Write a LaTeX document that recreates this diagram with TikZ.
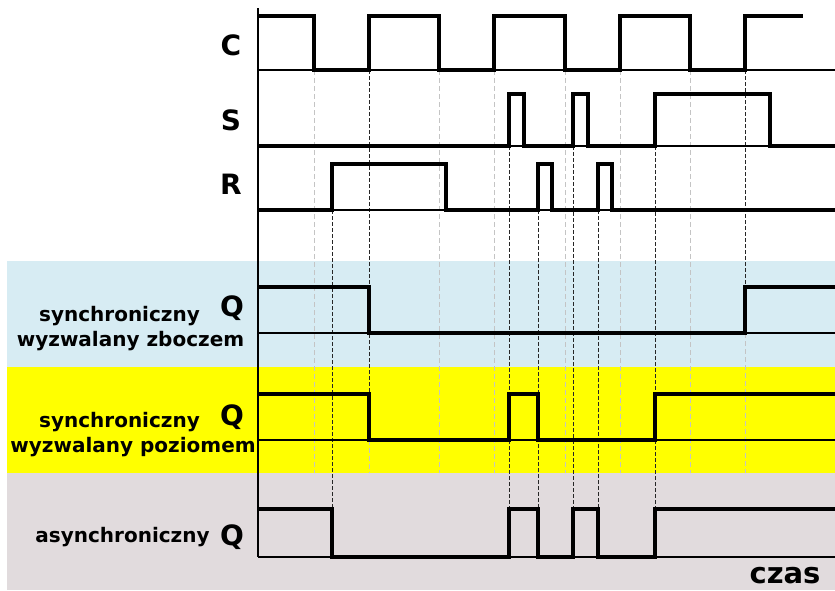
\documentclass[tikz,border=0pt]{standalone}
\usepackage{fontspec}
\setmainfont{DejaVu Sans}
\definecolor{bgblue}{HTML}{D7ECF3}
\definecolor{bgyellow}{HTML}{FFFF00}
\definecolor{bggrey}{HTML}{E1DBDD}
\definecolor{lightdash}{HTML}{C4C4C4}
\begin{document}
\begin{tikzpicture}[x=1pt,y=-1pt,
  wave/.style={line width=3.1pt, line join=miter},
  baseln/.style={line width=1.5pt},
  darkdash/.style={line width=1pt, black!85, dash pattern=on 4pt off 2pt},
  lightdsh/.style={line width=1pt, lightdash, dash pattern=on 5pt off 3pt},
  sig/.style={font=\fontsize{28}{28}\selectfont\bfseries, anchor=base, inner sep=0pt},
  lab/.style={font=\fontsize{20}{20}\selectfont\bfseries, anchor=base, inner sep=0pt}]
\useasboundingbox (0,0) rectangle (835,590);
% backgrounds
\fill[bgblue] (7,261) rectangle (835,367);
\fill[bgyellow] (7,367) rectangle (835,473);
\fill[bggrey] (7,473) rectangle (835,590);
% light dashed clock guides
\foreach \x in {314,439,494,565,620,690}
  \draw[lightdsh] (\x,70) -- (\x,473);
\draw[lightdsh] (369,440) -- (369,473);
\draw[lightdsh] (745,333) -- (745,473);
% dark dashed guides
\draw[darkdash] (369,70) -- (369,440);
\draw[darkdash] (745,70) -- (745,333);
\foreach \x in {332,538,598}
  \draw[darkdash] (\x,210) -- (\x,557);
\foreach \x in {509,573,655}
  \draw[darkdash] (\x,146) -- (\x,557);
% baselines
\foreach \y in {70,146,210,333,440,557}
  \draw[baseln] (258,\y) -- (835,\y);
% axis
\draw[line width=1.7pt] (258,8) -- (258,557);
% waveforms
\draw[wave] (258,16) -- (314,16) -- (314,70) -- (369,70) -- (369,16) -- (439,16) -- (439,70)
  -- (494,70) -- (494,16) -- (565,16) -- (565,70) -- (620,70) -- (620,16) -- (690,16)
  -- (690,70) -- (745,70) -- (745,16) -- (803,16);
\draw[wave] (258,146) -- (509,146) -- (509,94) -- (524,94) -- (524,146) -- (573,146)
  -- (573,94) -- (588,94) -- (588,146) -- (655,146) -- (655,94) -- (770,94) -- (770,146) -- (835,146);
\draw[wave] (258,210) -- (332,210) -- (332,164) -- (446,164) -- (446,210) -- (538,210)
  -- (538,164) -- (552,164) -- (552,210) -- (598,210) -- (598,164) -- (612,164) -- (612,210) -- (835,210);
\draw[wave] (258,287) -- (369,287) -- (369,333) -- (745,333) -- (745,287) -- (835,287);
\draw[wave] (258,394) -- (369,394) -- (369,440) -- (509,440) -- (509,394) -- (538,394)
  -- (538,440) -- (655,440) -- (655,394) -- (835,394);
\draw[wave] (258,509) -- (332,509) -- (332,557) -- (509,557) -- (509,509) -- (538,509)
  -- (538,557) -- (573,557) -- (573,509) -- (598,509) -- (598,557) -- (655,557) -- (655,509) -- (835,509);
% labels
\node[sig] (lC) at (231,55) {C};
\node[sig] (lS) at (231,130) {S};
\node[sig] (lR) at (231,194) {R};
\node[sig] (lQ1) at (232,316) {Q};
\node[sig] (lQ2) at (232,425) {Q};
\node[sig] (lQ3) at (232,545) {Q};
\node[lab] (t1) at (119.5,321) {synchroniczny};
\node[lab] (t2) at (130.5,346) {wyzwalany zboczem};
\node[lab] (t3) at (119.5,427) {synchroniczny};
\node[lab] (t4) at (133,452) {wyzwalany poziomem};
\node[lab] (t5) at (122.5,542) {asynchroniczny};
\node[sig, font=\fontsize{29}{29}\selectfont\bfseries] (tczas) at (785,583) {czas};
\end{tikzpicture}
\end{document}
